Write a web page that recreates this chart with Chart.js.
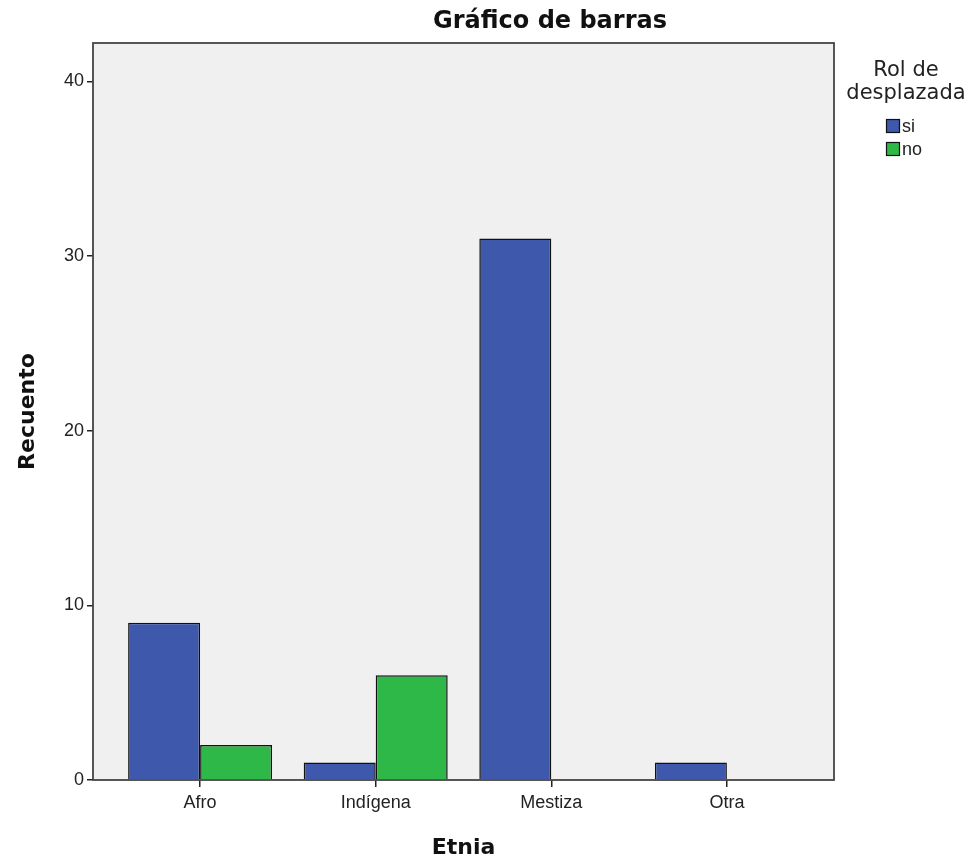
<!DOCTYPE html>
<html>
<head>
<meta charset="utf-8">
<script src="https://cdn.jsdelivr.net/npm/chart.js@4/dist/chart.umd.min.js"></script>
<style>
  html, body { margin: 0; padding: 0; background: #fff; }
  canvas { display: block; }
</style>
</head>
<body>
<canvas id="barChart" width="974" height="865"></canvas>
<script>
// ─── Data ──────────────────────────────────────────────────────────────────────
const categories = ['Afro', 'Indígena', 'Mestiza', 'Otra'];
const siValues = [9, 1, 31, 1];
const noValues = [2, 6, 0, 0];
const yTicks = [0, 10, 20, 30, 40];
const seriesLabels = ['si', 'no'];
const legendTitle = ['Rol de', 'desplazada'];

// ─── Frame, title and legend (SPSS look) ──────────────────────────────────────
const spssDecor = {
  id: 'spssDecor',
  beforeDraw(chart) {
    const { ctx, chartArea: a } = chart;
    ctx.save();
    ctx.fillStyle = '#f0f0f0';
    ctx.fillRect(a.left, a.top, a.right - a.left, a.bottom - a.top);
    ctx.restore();
  },
  afterDraw(chart) {
    const { ctx, chartArea: a } = chart;
    ctx.save();
    // plot frame
    ctx.strokeStyle = '#444';
    ctx.lineWidth = 1.8;
    ctx.strokeRect(a.left, a.top, a.right - a.left, a.bottom - a.top);

    // title
    ctx.fillStyle = '#111';
    ctx.font = 'bold 24px "DejaVu Sans"';
    ctx.textAlign = 'center';
    ctx.textBaseline = 'middle';
    ctx.fillText('Gráfico de barras', 550, 22);

    // legend
    ctx.font = '21px "DejaVu Sans"';
    ctx.fillStyle = '#222';
    ctx.fillText(legendTitle[0], 906, 71);
    ctx.fillText(legendTitle[1], 906, 94);
    ctx.font = '18px "Liberation Sans"';
    ctx.textAlign = 'left';
    chart.data.datasets.forEach((ds, i) => {
      const cy = 126 + i * 23;
      ctx.fillStyle = ds.backgroundColor;
      ctx.fillRect(886, cy - 7, 14, 14);
      ctx.strokeStyle = '#111';
      ctx.lineWidth = 1.2;
      ctx.strokeRect(886.5, cy - 6.5, 13, 13);
      ctx.fillStyle = '#222';
      ctx.fillText(ds.label, 902, cy + 1);
    });
    ctx.restore();
  }
};

new Chart(document.getElementById('barChart'), {
  type: 'bar',
  data: {
    labels: categories,
    datasets: [
      { label: seriesLabels[0], data: siValues, backgroundColor: '#3e58ac' },
      { label: seriesLabels[1], data: noValues, backgroundColor: '#2eb848' }
    ]
  },
  options: {
    responsive: false,
    animation: false,
    layout: { padding: { top: 43, right: 140, left: 0, bottom: 0 } },
    datasets: {
      bar: {
        borderColor: '#111',
        borderWidth: 1.5,
        categoryPercentage: 0.82,
        barPercentage: 1
      }
    },
    plugins: {
      legend: { display: false },
      tooltip: { enabled: false }
    },
    scales: {
      x: {
        afterFit: s => { s.height = 85; },
        // leave extra room at both ends like the SPSS plot
        afterBuildTicks: s => { s._startValue = -0.61; s._valueRange = 4.22; },
        border: { display: false },
        grid: { offset: false, drawOnChartArea: false, tickLength: 7, color: '#222', lineWidth: 1.5 },
        ticks: { padding: 5, color: '#222', font: { family: 'Liberation Sans', size: 18 } },
        title: {
          display: true, text: 'Etnia', color: '#111',
          font: { family: 'DejaVu Sans', size: 22, weight: 'bold' },
          padding: { top: 0, bottom: 4 }
        }
      },
      y: {
        min: 0,
        max: 42.2,
        afterFit: s => { s.width = 93; },
        afterBuildTicks: s => { s.ticks = yTicks.map(v => ({ value: v })); },
        border: { display: false },
        grid: { drawOnChartArea: false, tickLength: 6, color: '#222', lineWidth: 1.5 },
        ticks: { padding: 3, color: '#222', font: { family: 'Liberation Sans', size: 18 } },
        title: {
          display: true, text: 'Recuento', color: '#111',
          font: { family: 'DejaVu Sans', size: 22, weight: 'bold' },
          padding: { top: 15, bottom: 0 }
        }
      }
    }
  },
  plugins: [spssDecor]
});
</script>
</body>
</html>
